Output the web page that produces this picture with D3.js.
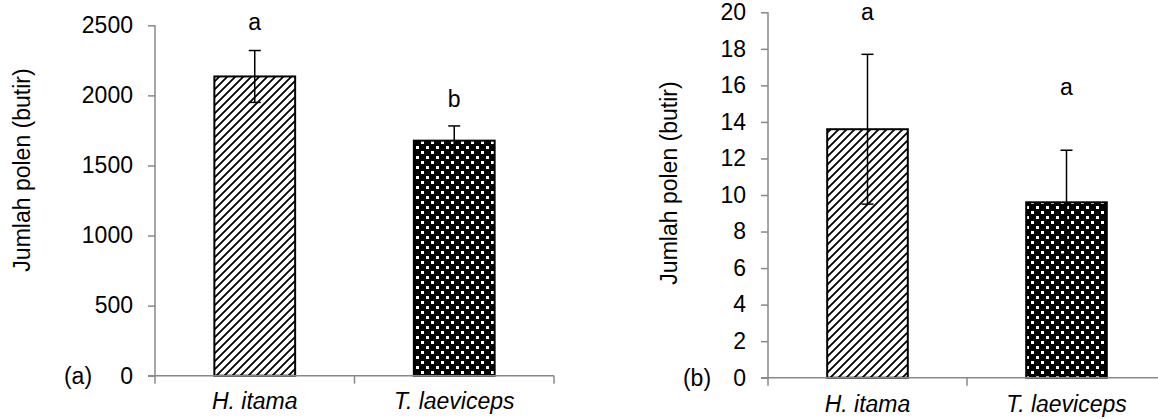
<!DOCTYPE html>
<html><head><meta charset="utf-8">
<script src="https://cdn.jsdelivr.net/npm/d3@7"></script>
<style>
html,body{margin:0;padding:0;background:#fff;}
svg text{font-family:"Liberation Sans",Arial,sans-serif;fill:#000;}
</style></head>
<body><svg id="c" width="1158" height="419"></svg>
<script>
const categories = ["H. itama", "T. laeviceps"];
const meansA = [2135, 1677];
const errorsA = [185, 105];
const lettersA = ["a", "b"];
const ticksA = [0, 500, 1000, 1500, 2000, 2500];
const meansB = [13.6, 9.6];
const errorsB = [4.1, 2.85];
const lettersB = ["a", "a"];
const ticksB = [0, 2, 4, 6, 8, 10, 12, 14, 16, 18, 20];
const yTitle = "Jumlah polen (butir)";
const panelTags = ["(a)", "(b)"];

const FS = 23;
const svg = d3.select("#c");
const defs = svg.append("defs");
// hatch pattern
const ph = defs.append("pattern").attr("id","hatch").attr("patternUnits","userSpaceOnUse")
  .attr("width",8).attr("height",8);
ph.append("rect").attr("width",8).attr("height",8).attr("fill","#fff");
ph.append("path").attr("d","M-1,9 L9,-1 M-5,5 L5,-5 M3,13 L13,3").attr("stroke","#000").attr("stroke-width",1.8);
// dotted pattern
const pd = defs.append("pattern").attr("id","dots").attr("patternUnits","userSpaceOnUse")
  .attr("width",10).attr("height",10);
pd.append("rect").attr("width",10).attr("height",10).attr("fill","#000");
pd.append("rect").attr("x",1).attr("y",1).attr("width",3).attr("height",3).attr("fill","#fff");
pd.append("rect").attr("x",6).attr("y",6).attr("width",3).attr("height",3).attr("fill","#fff");
const fills = ["url(#hatch)", "url(#dots)"];

function panel(cfg){
  const g = svg.append("g");
  const y = d3.scaleLinear().domain([0, cfg.ticks[cfg.ticks.length-1]]).range([cfg.y0, cfg.y1]);
  const x = d3.scaleBand().domain(categories).range([cfg.x0, cfg.x1]);
  const bw = x.bandwidth()*0.405;
  // bars
  g.selectAll("rect.bar").data(categories).join("rect")
    .attr("x", d => x(d)+x.bandwidth()/2-bw/2)
    .attr("y", (d,i) => y(cfg.means[i]))
    .attr("width", bw)
    .attr("height", (d,i) => y(0)-y(cfg.means[i]))
    .attr("fill", (d,i) => fills[i])
    .attr("stroke","#000").attr("stroke-width",2);
  // y axis
  const ya = g.append("g").attr("transform",`translate(${cfg.x0},0)`)
    .call(d3.axisLeft(y).tickValues(cfg.ticks).tickFormat(d3.format("d")).tickSize(7).tickPadding(15));
  ya.select(".domain").attr("stroke","#888").attr("stroke-width",1.5).attr("d",`M0,${cfg.y0+8}V${cfg.y1}`);
  ya.selectAll(".tick line").attr("stroke","#888").attr("stroke-width",1.5);
  ya.selectAll(".tick text").attr("font-size",FS).style("font-family","Liberation Sans, Arial, sans-serif");
  // x axis
  const xa = g.append("g");
  xa.append("path").attr("d",`M${cfg.x0-7},${cfg.y0}H${cfg.x1}`).attr("stroke","#888").attr("stroke-width",1.5).attr("fill","none");
  xa.selectAll("line.sep").data(categories.slice(1).concat(["_end"])).join("line")
    .attr("x1",(d,i)=> i===0 ? x(d) : cfg.x1).attr("x2",(d,i)=> i===0 ? x(d) : cfg.x1)
    .attr("y1",cfg.y0).attr("y2",cfg.y0+8).attr("stroke","#888").attr("stroke-width",1.5);
  xa.selectAll("text.cat").data(categories).join("text")
    .attr("x", d => x(d)+x.bandwidth()/2).attr("y", cfg.labelY)
    .attr("text-anchor","middle").attr("font-size",FS).attr("font-style","italic").text(d=>d);
  // error bars
  categories.forEach((c,i)=>{
    const cx = x(c)+x.bandwidth()/2;
    const top = y(cfg.means[i]+cfg.errs[i]), bot = y(cfg.means[i]-cfg.errs[i]);
    g.append("line").attr("x1",cx).attr("x2",cx).attr("y1",top).attr("y2",bot).attr("stroke","#000").attr("stroke-width",1.5);
    g.append("line").attr("x1",cx-6).attr("x2",cx+6).attr("y1",top).attr("y2",top).attr("stroke","#000").attr("stroke-width",1.5);
    g.append("line").attr("x1",cx-6).attr("x2",cx+6).attr("y1",bot).attr("y2",bot).attr("stroke","#000").attr("stroke-width",1.5);
    g.append("text").attr("x",cx).attr("y",cfg.letterY[i]).attr("text-anchor","middle").attr("font-size",FS).text(cfg.letters[i]);
  });
  // y title
  g.append("text").attr("transform",`translate(${cfg.titleX},${cfg.titleY}) rotate(-90)`)
    .attr("text-anchor","middle").attr("font-size",FS).text(yTitle);
  g.append("text").attr("x",cfg.tagX).attr("y",cfg.y0+8).attr("text-anchor","middle").attr("font-size",FS).text(cfg.tag);
}

panel({x0:155, x1:554, y0:375.7, y1:25.3, ticks:ticksA, means:meansA, errs:errorsA, letters:lettersA,
  letterY:[30,107], labelY:409, titleX:30, titleY:170, tagX:78, tag:panelTags[0]});
panel({x0:768, x1:1166, y0:377.7, y1:12.3, ticks:ticksB, means:meansB, errs:errorsB, letters:lettersB,
  letterY:[20,95], labelY:412, titleX:677, titleY:183, tagX:697, tag:panelTags[1]});
</script></body></html>
